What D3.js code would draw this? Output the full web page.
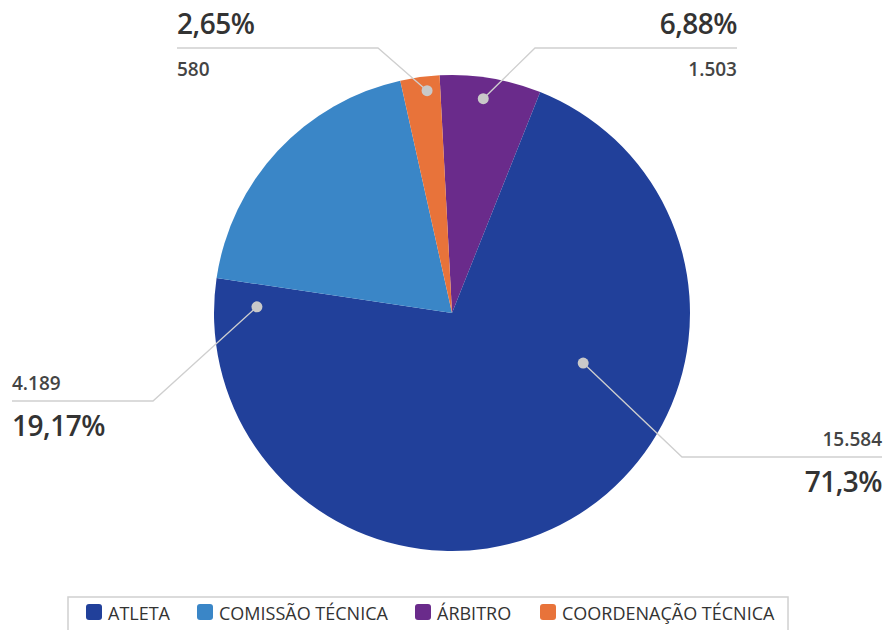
<!DOCTYPE html>
<html><head><meta charset="utf-8">
<script src="https://cdn.jsdelivr.net/npm/d3@7"></script>
<style>
html,body{margin:0;padding:0;background:#fff;}
svg{display:block;font-family:"Open Sans","Noto Sans",sans-serif;}
</style></head>
<body><svg id="c" width="889" height="630"></svg>
<script>
// ---- data ----
const categories = ["ATLETA", "COMISSÃO TÉCNICA", "ÁRBITRO", "COORDENAÇÃO TÉCNICA"];
const values = [15584, 4189, 1503, 580];
const countLabels = ["15.584", "4.189", "1.503", "580"];
const percentLabels = ["71,3%", "19,17%", "6,88%", "2,65%"];
const pieOrder = ["ÁRBITRO", "ATLETA", "COMISSÃO TÉCNICA", "COORDENAÇÃO TÉCNICA"];
const colors = ["#21409A", "#3A86C7", "#6A2B8B", "#E8733A"];

// ---- layout ----
const W = 889, H = 630;
const cx = 452, cy = 313, R = 238;
const startDeg = -3;
const annot = [
  {dotA:110.9, dotR:0.59, ex:230, ey:144, endX:882, side:"right", pctTop:false},
  {dotA:271.8, dotR:0.82, ex:-299, ey:88, endX:12, side:"left", pctTop:false},
  {dotA:8.3, dotR:0.91, ex:83, ey:-265, endX:737, side:"right", pctTop:true},
  {dotA:-6.4, dotR:0.94, ex:-74, ey:-265, endX:177, side:"left", pctTop:true}
];

const svg = d3.select("#c");
const color = d3.scaleOrdinal().domain(categories).range(colors);
const data = pieOrder.map(c => ({cat:c, value: values[categories.indexOf(c)]}));
const rad = d => d * Math.PI / 180;
const pie = d3.pie().sort(null).value(d => d.value)
  .startAngle(rad(startDeg)).endAngle(rad(startDeg) + 2 * Math.PI);
const arc = d3.arc().innerRadius(0).outerRadius(R);

const g = svg.append("g").attr("transform", `translate(${cx},${cy})`);
g.selectAll("path").data(pie(data)).join("path")
  .attr("d", arc).attr("fill", d => color(d.data.cat));

categories.forEach((c, i) => {
  const a = annot[i];
  const px = Math.sin(rad(a.dotA)) * R * a.dotR;
  const py = -Math.cos(rad(a.dotA)) * R * a.dotR;
  const endXr = a.endX - cx;
  g.append("polyline")
    .attr("points", `${px},${py} ${a.ex},${a.ey} ${endXr},${a.ey}`)
    .attr("fill", "none").attr("stroke", "#cfcfcf").attr("stroke-width", 1.3);
  g.append("circle").attr("cx", px).attr("cy", py).attr("r", 5.5).attr("fill", "#c9c9c9");
  const anchor = a.side === "right" ? "end" : "start";
  const pctY = a.pctTop ? a.ey - 14 : a.ey + 35;
  const cntY = a.pctTop ? a.ey + 28 : a.ey - 11;
  g.append("text").attr("x", endXr).attr("y", pctY).attr("text-anchor", anchor)
    .attr("font-size", 28).attr("font-weight", 600).attr("fill", "#333")
    .attr("letter-spacing", -0.5).text(percentLabels[i]);
  g.append("text").attr("x", endXr).attr("y", cntY).attr("text-anchor", anchor)
    .attr("font-size", 19).attr("font-weight", 600).attr("fill", "#444").text(countLabels[i]);
});

const leg = svg.append("g");
leg.append("rect").attr("x", 68).attr("y", 597).attr("width", 720).attr("height", 40)
  .attr("fill", "none").attr("stroke", "#d0d0d0").attr("stroke-width", 1.5);
const legX = [86, 197, 415, 540];
categories.forEach((c, i) => {
  leg.append("rect").attr("x", legX[i]).attr("y", 604).attr("width", 16).attr("height", 16)
    .attr("rx", 3).attr("fill", color(c));
  leg.append("text").attr("x", legX[i] + 22).attr("y", 620).attr("font-size", 18)
    .attr("font-weight", 500).attr("fill", "#333").text(c);
});
</script></body></html>
